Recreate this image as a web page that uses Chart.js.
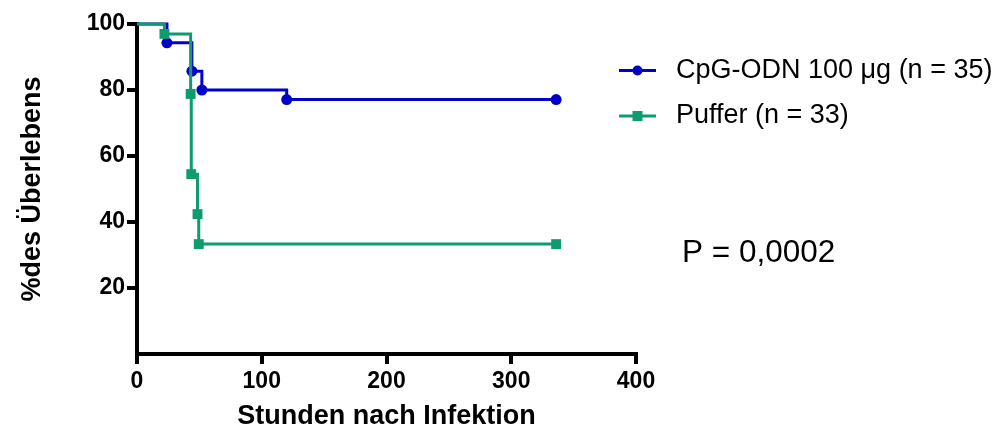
<!DOCTYPE html>
<html>
<head>
<meta charset="utf-8">
<script src="https://cdn.jsdelivr.net/npm/chart.js@4/dist/chart.umd.min.js"></script>
<style>
  html, body { margin: 0; padding: 0; background: #fff; }
  canvas { display: block; }
</style>
</head>
<body>
<canvas id="km" width="995" height="429"></canvas>
<script>
// Kaplan-Meier survival after infection (hours vs. % survival)
const cpgTimes    = [0, 24, 44, 52, 120, 336];
const cpgSurvival = [100, 94.3, 85.7, 80.0, 77.1, 77.1];

const bufferTimes    = [0, 22, 43, 43.5, 48.5, 49.5, 336];
const bufferSurvival = [100, 97.0, 78.8, 54.5, 42.4, 33.3, 33.3];

const seriesLabels = ['CpG-ODN 100 \u03bcg (n = 35)', 'Puffer (n = 33)'];
const xTickValues = [0, 100, 200, 300, 400];
const yTickValues = [20, 40, 60, 80, 100];
const pValueText = 'P = 0,0002';

const BLUE = '#0000c8';
const GREEN = '#0f9c6c';
const FONT = 'Arial, "Liberation Sans", Helvetica, sans-serif';

const toPoints = (xs, ys) => xs.map((x, i) => ({ x, y: ys[i] }));
// no marker at the starting point (time 0)
const markerRadii = (xs, r) => xs.map((_, i) => (i === 0 ? 0 : r));

// legend (line + marker) and p-value text drawn onto the canvas
const legendPlugin = {
  id: 'kmLegend',
  afterDatasetsDraw(chart) {
    const ctx = chart.ctx;
    const rows = [70.5, 116];
    ctx.save();
    chart.data.datasets.forEach((ds, i) => {
      const y = rows[i];
      ctx.strokeStyle = ds.borderColor;
      ctx.lineWidth = 3;
      ctx.beginPath();
      ctx.moveTo(619, y);
      ctx.lineTo(656, y);
      ctx.stroke();
      ctx.fillStyle = ds.borderColor;
      if (ds.pointStyle === 'rect') {
        ctx.fillRect(637.5 - 5, y - 5, 10, 10);
      } else {
        ctx.beginPath();
        ctx.arc(637.5, y, 5, 0, Math.PI * 2);
        ctx.fill();
      }
      ctx.fillStyle = '#000';
      ctx.font = '27px ' + FONT;
      ctx.textBaseline = 'middle';
      ctx.textAlign = 'left';
      ctx.fillText(ds.label, 676, y);
    });
    ctx.font = '31.5px ' + FONT;
    ctx.fillStyle = '#000';
    ctx.textBaseline = 'middle';
    ctx.fillText(pValueText, 682, 253);
    ctx.restore();
  }
};

new Chart(document.getElementById('km'), {
  type: 'scatter',
  data: {
    datasets: [
      {
        label: seriesLabels[0],
        data: toPoints(cpgTimes, cpgSurvival),
        showLine: true,
        stepped: 'before',
        borderColor: BLUE,
        backgroundColor: BLUE,
        borderWidth: 3,
        pointStyle: 'circle',
        pointRadius: markerRadii(cpgTimes, 5.5),
        pointBorderWidth: 0,
        order: 1,
        clip: false
      },
      {
        label: seriesLabels[1],
        data: toPoints(bufferTimes, bufferSurvival),
        showLine: true,
        stepped: 'before',
        borderColor: GREEN,
        backgroundColor: GREEN,
        borderWidth: 3,
        pointStyle: 'rect',
        pointRadius: markerRadii(bufferTimes, 7),
        pointBorderWidth: 0,
        order: 0,
        clip: false
      }
    ]
  },
  options: {
    responsive: false,
    animation: false,
    devicePixelRatio: 1,
    layout: { padding: { left: 0, top: 24, right: 359, bottom: 0 } },
    plugins: {
      legend: { display: false },
      tooltip: { enabled: false }
    },
    scales: {
      x: {
        type: 'linear',
        min: 0,
        max: 400,
        afterBuildTicks: (s) => { s.ticks = xTickValues.map(v => ({ value: v })); },
        afterFit: (s) => { s.height = 75; },
        border: { display: true, color: '#000', width: 4 },
        grid: { display: true, drawOnChartArea: false, drawTicks: true, tickLength: 10, color: '#000', lineWidth: 4 },
        ticks: { color: '#000', padding: 4, maxRotation: 0, font: { family: FONT, size: 23, weight: 'bold' } },
        title: {
          display: true,
          text: 'Stunden nach Infektion',
          color: '#000',
          padding: { top: 0, bottom: -4 },
          font: { family: FONT, size: 27, weight: 'bold' }
        }
      },
      y: {
        type: 'linear',
        min: 0,
        max: 100,
        afterBuildTicks: (s) => { s.ticks = yTickValues.map(v => ({ value: v })); },
        afterFit: (s) => { s.width = 137; },
        border: { display: true, color: '#000', width: 4 },
        grid: { display: true, drawOnChartArea: false, drawTicks: true, tickLength: 10, color: '#000', lineWidth: 4 },
        ticks: { color: '#000', padding: 2, font: { family: FONT, size: 23, weight: 'bold' } },
        title: {
          display: true,
          text: '%des \u00dcberlebens',
          color: '#000',
          padding: { top: 16, bottom: 0 },
          font: { family: FONT, size: 27, weight: 'bold' }
        }
      }
    }
  },
  plugins: [legendPlugin]
});
</script>
</body>
</html>
